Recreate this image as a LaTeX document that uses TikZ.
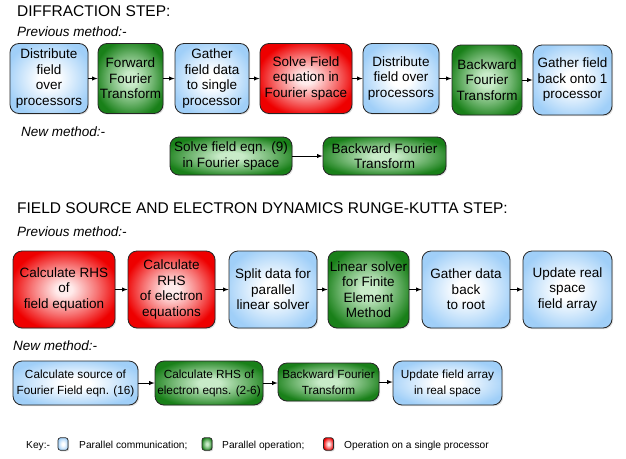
\documentclass[tikz,border=0pt]{standalone}
\usepackage{fontspec}
\setmainfont{Liberation Sans}
\usetikzlibrary{shadows}

\definecolor{commblue}{RGB}{160,207,248}
\definecolor{opgreen}{RGB}{25,128,25}
\definecolor{oplight}{RGB}{200,235,200}
\definecolor{singlered}{RGB}{238,0,0}
\definecolor{singlelight}{RGB}{255,235,235}

% Radial glows for the three kinds of box
\pgfdeclareradialshading{greenglow}{\pgfpoint{0bp}{0bp}}{color(0bp)=(oplight); color(5bp)=(oplight); color(17bp)=(oplight!50!opgreen); color(28bp)=(opgreen); color(50bp)=(opgreen)}
\pgfdeclareradialshading{blueglow}{\pgfpoint{0bp}{0bp}}{color(0bp)=(white); color(6bp)=(white); color(17bp)=(white!50!commblue); color(28bp)=(commblue); color(50bp)=(commblue)}
\pgfdeclareradialshading{redglow}{\pgfpoint{0bp}{0bp}}{color(0bp)=(singlelight); color(4bp)=(singlelight); color(16bp)=(singlelight!50!singlered); color(27bp)=(singlered); color(50bp)=(singlered)}

\tikzset{
  procbox/.style={draw=black!85, line width=0.8pt, rounded corners=9pt, inner sep=0pt,
    align=center, font=\fontsize{13.5}{15.5}\selectfont,
    drop shadow={opacity=0.25, shadow xshift=1.2pt, shadow yshift=-1.2pt}},
  comm/.style={procbox, shading=blueglow},
  oper/.style={procbox, shading=greenglow},
  single/.style={procbox, shading=redglow},
  small/.style={font=\fontsize{11.8}{16}\selectfont},
  keybox/.style={rounded corners=2.5pt, minimum width=10pt, minimum height=12.5pt,
    line width=0.7pt, drop shadow={opacity=0.2, shadow xshift=0.8pt, shadow yshift=-0.8pt}},
  flow/.style={-latex, line width=0.9pt},
  heading/.style={anchor=base west, inner sep=0pt, font=\fontsize{15.5}{18}\selectfont},
  method/.style={anchor=base west, inner sep=0pt, font=\itshape\fontsize{13.5}{16}\selectfont},
  keytext/.style={anchor=base west, inner sep=0pt, font=\fontsize{10.2}{12}\selectfont}
}

\begin{document}
\begin{tikzpicture}[x=1pt, y=-1pt]
\useasboundingbox (0,0) rectangle (626,458);

% Diffraction step, previous method
\node [heading] (t1) at (17,16) {DIFFRACTION STEP:};
\node [method] (p1) at (17,36) {Previous method:-};

\node [comm, minimum width=78pt, minimum height=70pt] (b1) at (49,78.5) {Distribute\\field\\over\\processors};
\node [oper, minimum width=65pt, minimum height=70pt] (b2) at (130.5,78.5) {Forward\\Fourier\\Transform};
\node [comm, minimum width=74pt, minimum height=70pt] (b3) at (212,78.5) {Gather\\field data\\to single\\processor};
\node [single, minimum width=92pt, minimum height=70pt] (b4) at (306,78.5) {Solve Field\\equation in\\Fourier space};
\node [comm, minimum width=76pt, minimum height=70pt] (b5) at (401,78.5) {Distribute\\field over\\processors};
\node [oper, minimum width=70pt, minimum height=70pt] (b6) at (487,80) {Backward\\Fourier\\Transform};
\node [comm, minimum width=79pt, minimum height=70pt] (b7) at (572.5,80) {Gather field\\back onto 1\\processor};

% Diffraction step, new method
\node [method] (n1) at (21,136) {New method:-};

\node [oper, minimum width=122pt, minimum height=38pt] (f1) at (231,156) {Solve field eqn. (9)\\in Fourier space};
\node [oper, minimum width=123pt, minimum height=38pt] (f2) at (384.5,156) {Backward Fourier\\Transform};

% Runge-Kutta step, previous method
\node [heading] (t2) at (17,213) {FIELD SOURCE AND ELECTRON DYNAMICS RUNGE-KUTTA STEP:};
\node [method] (p2) at (17,236) {Previous method:-};

\node [single, minimum width=102pt, minimum height=77pt] (c1) at (64,289.5) {Calculate RHS\\of\\field equation};
\node [single, minimum width=87pt, minimum height=77pt] (c2) at (171.5,289.5) {Calculate\\RHS\\of electron\\equations};
\node [comm, minimum width=88pt, minimum height=77pt] (c3) at (273,289.5) {Split data for\\parallel\\linear solver};
\node [oper, minimum width=81pt, minimum height=77pt] (c4) at (368.5,289.5) {Linear solver\\for Finite\\Element\\Method};
\node [comm, minimum width=88pt, minimum height=77pt] (c5) at (466,289.5) {Gather data\\back\\to root};
\node [comm, minimum width=89pt, minimum height=77pt] (c6) at (567.5,289.5) {Update real\\space\\field array};

% Runge-Kutta step, new method
\node [method] (n2) at (13,350) {New method:-};

\node [comm, small, minimum width=125pt, minimum height=44pt] (e1) at (75.5,383) {Calculate source of\\Fourier Field eqn. (16)};
\node [oper, small, minimum width=108pt, minimum height=44pt] (e2) at (209,383) {Calculate RHS of\\electron eqns. (2-6)};
\node [oper, small, minimum width=101pt, minimum height=38pt] (e3) at (328.5,382) {Backward Fourier\\Transform};
\node [comm, small, minimum width=109pt, minimum height=44pt] (e4) at (447.5,383) {Update field array\\in real space};

% Connectors, kept horizontal
\foreach \a/\b in {b1/b2,b2/b3,b3/b4,b4/b5,b5/b6,b6/b7,f1/f2,c1/c2,c2/c3,c3/c4,c4/c5,c5/c6,e1/e2,e2/e3,e3/e4}
	\draw [flow] (\a.east) -- (\a.east -| \b.west);

% Key
\node [keytext] (k0) at (26,448) {Key:-};
\node [comm, keybox] (k1) at (63,444) {};
\node [keytext] (k1t) at (79,448) {Parallel communication;};
\node [oper, keybox] (k2) at (207,444) {};
\node [keytext] (k2t) at (222,448) {Parallel operation;};
\node [single, keybox] (k3) at (328.5,444) {};
\node [keytext] (k3t) at (344,448) {Operation on a single processor};

\end{tikzpicture}
\end{document}
